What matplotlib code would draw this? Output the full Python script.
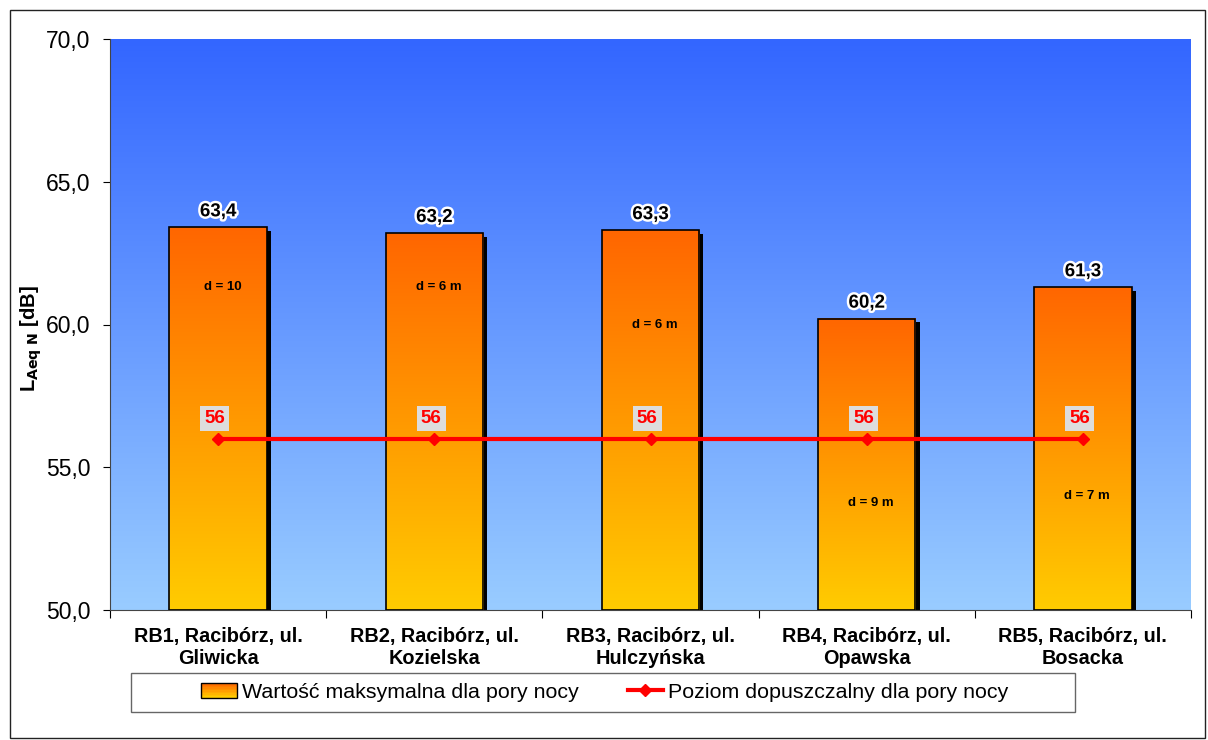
import numpy as np
import matplotlib
matplotlib.use('Agg')
import matplotlib.pyplot as plt
import matplotlib.patheffects as pe
from matplotlib.patches import Rectangle
from matplotlib.legend_handler import HandlerBase
from matplotlib.colors import LinearSegmentedColormap
from matplotlib.ticker import FuncFormatter

plt.rcParams['font.family'] = ['Liberation Sans', 'DejaVu Sans']

# data
categories = ['RB1, Racibórz, ul.\nGliwicka', 'RB2, Racibórz, ul.\nKozielska',
              'RB3, Racibórz, ul.\nHulczyńska', 'RB4, Racibórz, ul.\nOpawska',
              'RB5, Racibórz, ul.\nBosacka']
values = [63.4, 63.2, 63.3, 60.2, 61.3]
limit = [56, 56, 56, 56, 56]
dist_labels = ['d = 10', 'd = 6 m', 'd = 6 m', 'd = 9 m', 'd = 7 m']
dist_pos = [61.3, 61.3, 60.0, 53.75, 54.0]

bar_cmap = LinearSegmentedColormap.from_list('bar', ['#FFCC00', '#FF6600'])
bg_cmap = LinearSegmentedColormap.from_list('bg', ['#99CCFF', '#3366FF'])

W, H = 1208, 740
fig = plt.figure(figsize=(W/100, H/100), dpi=100)
ax = fig.add_axes([110/W, 1-610/H, (1191-110)/W, (610-39)/H])

x = np.arange(len(values))
ymin, ymax = 50, 70
ax.set_xlim(-0.5, 4.5)
ax.set_ylim(ymin, ymax)

grad = np.linspace(0, 1, 256).reshape(-1, 1)
ax.imshow(grad, cmap=bg_cmap, origin='lower', aspect='auto',
          extent=[-0.5, 4.5, ymin, ymax], zorder=0)

w = 0.45
for i, v in enumerate(values):
    # shadow
    ax.add_patch(Rectangle((x[i] - w/2 + 0.02, ymin), w, v - ymin - 0.12,
                           facecolor='black', edgecolor='none', zorder=1))
    ax.imshow(grad, cmap=bar_cmap, origin='lower', aspect='auto',
              extent=[x[i] - w/2, x[i] + w/2, ymin, v], zorder=2)
    ax.add_patch(Rectangle((x[i] - w/2, ymin), w, v - ymin, facecolor='none',
                           edgecolor='black', linewidth=1.2, zorder=3))
    ax.text(x[i], v + 0.25, ('%.1f' % v).replace('.', ','), ha='center', va='bottom',
            fontsize=13.5, fontweight='bold', zorder=6,
            path_effects=[pe.withStroke(linewidth=3.5, foreground='white')])
    ax.text(x[i] + 0.02, dist_pos[i], dist_labels[i], ha='center', va='center',
            fontsize=9.5, fontweight='bold', zorder=6)

ax.plot(x, limit, color='#FF0000', linewidth=3, marker='D', markersize=6, zorder=5)
for i, l in enumerate(limit):
    ax.text(x[i] - 0.015, l + 0.7, str(l), ha='center', va='center', color='#FF0000',
            fontsize=13.5, fontweight='bold', zorder=6,
            bbox=dict(facecolor='#DDDDDD', edgecolor='none', pad=3))

ax.set_yticks([50, 55, 60, 65, 70])
ax.yaxis.set_major_formatter(FuncFormatter(lambda v, p: ('%.1f' % v).replace('.', ',')))
ax.tick_params(axis='y', labelsize=16.5, length=5, direction='out', width=0.8, pad=9)
ax.set_xticks(np.arange(-0.5, 5, 1))
ax.set_xticklabels([])
ax.set_xticks(x, minor=True)
ax.set_xticklabels(categories, minor=True, fontsize=14.3, fontweight='bold', linespacing=1.2)
ax.tick_params(axis='x', which='minor', length=0, pad=12)
ax.tick_params(axis='x', which='major', length=6, direction='out', width=0.8)
for s in ['top', 'right']:
    ax.spines[s].set_visible(False)
ax.spines['left'].set_color('#444444')
ax.spines['bottom'].set_color('#444444')
ax.set_ylabel(r'L$_{\mathbf{Aeq\ N}}$ [dB]', fontsize=14.5, fontweight='bold')
ax.yaxis.set_label_coords(-0.061, 0.475)


class GradHandler(HandlerBase):
    def create_artists(self, legend, orig, xd, yd, width, height, fontsize, trans):
        arts = []
        n = 10
        for k in range(n):
            c = bar_cmap(k / (n - 1))
            arts.append(Rectangle((xd, yd + height * k / n), width, height / n,
                                  facecolor=c, edgecolor='none', transform=trans))
        arts.append(Rectangle((xd, yd), width, height, facecolor='none',
                              edgecolor='black', linewidth=1, transform=trans))
        return arts


# legend frame drawn separately, entries centred inside it
fig.patches.append(Rectangle((131/W, 1-712/H), (1075-131)/W, 39/H, transform=fig.transFigure,
                             facecolor='white', edgecolor='#666666', linewidth=1))
bar_handle = Rectangle((0, 0), 1, 1)
line_handle, = ax.plot([], [], color='#FF0000', linewidth=3, marker='D', markersize=6)
leg = fig.legend([bar_handle, line_handle],
                 ['Wartość maksymalna dla pory nocy', 'Poziom dopuszczalny dla pory nocy'],
                 handler_map={Rectangle: GradHandler()},
                 loc='center', bbox_to_anchor=(605/W, 1-692/H), ncol=2,
                 fontsize=15.4, frameon=False,
                 handlelength=1.65, handletextpad=0.25, columnspacing=2.3, borderpad=0,
                 borderaxespad=0)

fig.patches.append(Rectangle((10/W, 2/H), 1195/W, 1-12/H, transform=fig.transFigure,
                             fill=False, edgecolor='#222222', linewidth=1))

fig.savefig('out.png', dpi=100)
